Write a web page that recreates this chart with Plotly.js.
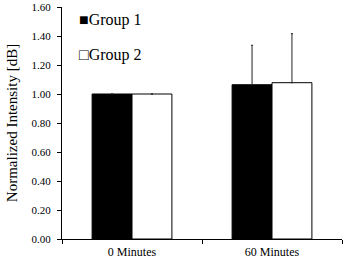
<!DOCTYPE html>
<html><head><meta charset="utf-8">
<script src="https://cdn.plot.ly/plotly-3.0.1.min.js"></script>
<style>html,body{margin:0;padding:0;background:#fff}#chart{width:343px;height:261px}</style>
</head><body><div id="chart"></div>
<script>
var categories = ["0 Minutes", "60 Minutes"];
var seriesNames = ["Group 1", "Group 2"];
var group1 = [1.00, 1.064];
var group2 = [1.00, 1.078];
var group1Err = [0, 0.272];
var group2Err = [0, 0.338];
var yTicks = [0, 0.2, 0.4, 0.6, 0.8, 1.0, 1.2, 1.4, 1.6];
var yTickText = ["0.00","0.20","0.40","0.60","0.80","1.00","1.20","1.40","1.60"];

var font = "Liberation Serif, Times New Roman, serif";
var traces = [
  {type:"bar", name:seriesNames[0], x:categories, y:group1, showlegend:false,
   marker:{color:"#000", line:{color:"#000", width:1}},
   error_y:{type:"data", array:group1Err, arrayminus:[0,0], symmetric:false, color:"#222", thickness:1, width:1}},
  {type:"bar", name:seriesNames[1], x:categories, y:group2, showlegend:false,
   marker:{color:"#fff", line:{color:"#000", width:1}},
   error_y:{type:"data", array:group2Err, arrayminus:[0,0], symmetric:false, color:"#222", thickness:1, width:1}}
];
var legendSymbols = ["\u25A0", "\u25A1"];
var legendY = [0.945, 0.795];
var annotations = seriesNames.map(function(n, i){
  return {xref:"paper", yref:"paper", x:0.055, y:legendY[i], xanchor:"left", yanchor:"middle",
          showarrow:false, text:legendSymbols[i] + n,
          font:{family:font, size:16, color:"#000"}};
});
var layout = {
  width:343, height:261,
  margin:{l:62, r:1, t:7, b:22},
  paper_bgcolor:"#fff", plot_bgcolor:"#fff",
  barmode:"group", bargap:0.43, bargroupgap:0,
  font:{family:font, color:"#000"},
  showlegend:false,
  annotations:annotations,
  xaxis:{showline:true, linecolor:"#000", linewidth:1, ticks:"outside", tickson:"boundaries",
         ticklen:4, tickcolor:"#000", tickfont:{family:font, size:12, color:"#000"},
         ticklabelstandoff:2,
         showgrid:false, zeroline:false, fixedrange:true},
  yaxis:{range:[0,1.6], tickmode:"array", tickvals:yTicks, ticktext:yTickText,
         showline:true, linecolor:"#000", linewidth:1, ticks:"outside", ticklen:4, tickcolor:"#000",
         ticklabelstandoff:4,
         tickfont:{family:font, size:11, color:"#000"}, showgrid:false, zeroline:false,
         title:{text:"Normalized Intensity [dB]", font:{family:font, size:15, color:"#000"}, standoff:10}}
};
Plotly.newPlot("chart", traces, layout, {displayModeBar:false, staticPlot:true});
</script></body></html>
